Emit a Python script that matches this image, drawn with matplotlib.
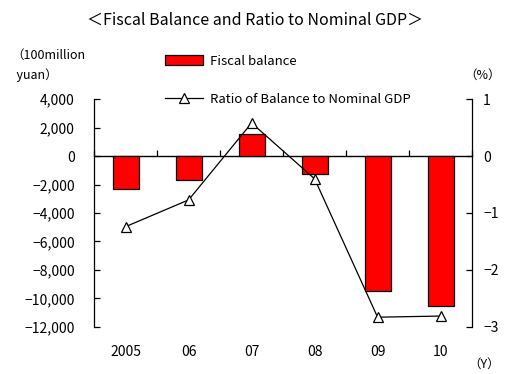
import numpy as np
import matplotlib
matplotlib.use("Agg")
import matplotlib.pyplot as plt

plt.rcParams['font.family'] = ['Noto Sans CJK JP', 'DejaVu Sans']

# Data -------------------------------------------------------------------
years = ["2005", "06", "07", "08", "09", "10"]
fiscal_balance = [-2281, -1662, 1540, -1262, -9500, -10500]   # 100million yuan
ratio_to_gdp = [-1.24, -0.77, 0.58, -0.40, -2.83, -2.81]      # %
left_ticks = [4000, 2000, 0, -2000, -4000, -6000, -8000, -10000, -12000]
right_ticks = [1, 0, -1, -2, -3]
#-------------------------------------------------------------------------

fig = plt.figure(figsize=(5.06, 3.74), dpi=100)
ax = fig.add_axes([0.186, 0.126, 0.747, 0.609])
x = np.arange(len(years))

bars = ax.bar(x, fiscal_balance, width=0.41, color='#ff0000', edgecolor='black',
              linewidth=0.9, label='Fiscal balance', zorder=2)
ax.set_ylim(-12000, 4000)
ax.set_xlim(-0.5, len(years) - 0.5)
ax.set_yticks(left_ticks)
ax.set_yticklabels([f"{v:,}".replace('-', '\u2212') for v in left_ticks], fontsize=10)
ax.tick_params(axis='y', direction='in', length=4, width=0.9, pad=14)
ax.set_xticks(x)
ax.set_xticklabels(years, fontsize=10)
ax.tick_params(axis='x', length=0, pad=13)
for s in ['top', 'bottom', 'right']:
    ax.spines[s].set_visible(False)
ax.spines['left'].set_linewidth(0.9)

# zero line with category boundary ticks
zero = ax.secondary_xaxis(0, transform=ax.transData)
zero.set_xticks(np.arange(len(years) + 1) - 0.5)
zero.set_xticklabels([])
zero.tick_params(direction='in', length=4, width=0.9)
zero.spines['bottom'].set_linewidth(1.0)

ax2 = ax.twinx()
line, = ax2.plot(x, ratio_to_gdp, color='black', linewidth=0.9, marker='^',
                 markersize=7, markerfacecolor='white', markeredgecolor='black',
                 markeredgewidth=0.9, label='Ratio of Balance to Nominal GDP', zorder=3)
ax2.set_ylim(-3, 1)
ax2.set_yticks(right_ticks)
ax2.set_yticklabels([str(v).replace('-', '\u2212') for v in right_ticks], fontsize=10)
ax2.tick_params(axis='y', direction='in', length=4, width=0.9, pad=8)
for s in ['top', 'bottom', 'left']:
    ax2.spines[s].set_visible(False)
ax2.spines['right'].set_linewidth(0.9)

fig.legend(handles=[bars, line], loc='upper left', bbox_to_anchor=(0.315, 0.868),
           frameon=False, fontsize=9.5, labelspacing=1.9, handlelength=2.9,
           handletextpad=0.5, borderaxespad=0)

fig.text(0.505, 0.945, '＜Fiscal Balance and Ratio to Nominal GDP＞', ha='center',
         va='center', fontsize=11.5)
fig.text(0.022, 0.825, '（100million\n  yuan）', ha='left', va='center', fontsize=9,
         linespacing=1.6)
fig.text(0.918, 0.8, '（%）', ha='left', va='center', fontsize=9)
fig.text(0.925, 0.025, '（Y）', ha='left', va='center', fontsize=9)

fig.savefig('out.png', dpi=100)
